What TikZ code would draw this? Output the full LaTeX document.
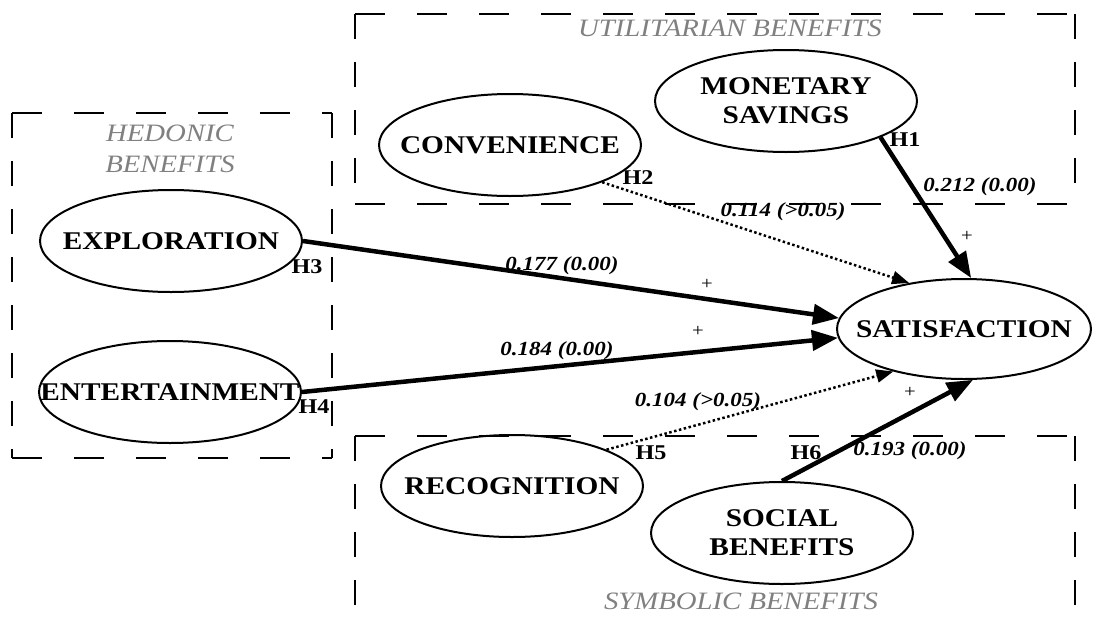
\documentclass[tikz,border=0pt]{standalone}
\usepackage{fontspec}
\setmainfont{Liberation Serif}[FakeStretch=1.15]
\usepackage{tikz}
\usetikzlibrary{arrows.meta,shapes.geometric}

\begin{document}
\begin{tikzpicture}[
  x=1pt, y=-1pt,
  construct/.style={ellipse, draw, line width=2pt, minimum width=262pt, minimum height=102pt,
    inner xsep=-45pt, inner ysep=0pt, align=center, font=\fontsize{25.5}{29}\selectfont\bfseries},
  hline/.style={line width=2pt, dash pattern=on 30pt off 32pt},
  vline/.style={line width=2pt, dash pattern=on 25pt off 23pt},
  grouplabel/.style={font=\fontsize{25}{31}\selectfont\itshape, text=black!50, align=center},
  strong/.style={line width=4.5pt, -{Triangle[length=26pt,width=20pt]}},
  weak/.style={line width=2.5pt, dash pattern=on 2.5pt off 2.5pt, -{Triangle[length=17pt,width=13pt]}},
  coef/.style={font=\fontsize{20}{22}\selectfont\bfseries\itshape},
  hyp/.style={font=\fontsize{21}{24}\selectfont\bfseries},
  sign/.style={font=\fontsize{18}{19}\selectfont},
]
\useasboundingbox (0,0) rectangle (1093,624);

% Dashed boxes around the three benefit groups.
\draw[hline] (12,113) -- (332,113) (12,458) -- (332,458);
\draw[vline] (12,113) -- (12,458) (332,113) -- (332,458);
\draw[hline] (355,14) -- (1075,14) (355,204) -- (1075,204);
\draw[vline] (355,14) -- (355,204) (1075,14) -- (1075,204);
\draw[hline] (355,436) -- (1075,436);
\draw[vline] (355,436) -- (355,624) (1075,436) -- (1075,624);

\node[grouplabel] (hedonic) at (170,149) {HEDONIC\\BENEFITS};
\node[grouplabel] (utilit)  at (730,28)  {UTILITARIAN BENEFITS};
\node[grouplabel] (symbol)  at (741,601) {SYMBOLIC BENEFITS};

% The constructs.
\node[construct] (mon)  at (786,101) {MONETARY\\SAVINGS};
\node[construct] (conv) at (510,145) {CONVENIENCE};
\node[construct] (expl) at (171,241) {EXPLORATION};
\node[construct] (ent)  at (170,392) {ENTERTAINMENT};
\node[construct, minimum width=254pt, minimum height=100pt] (sat) at (964,329) {SATISFACTION};
\node[construct] (rec)  at (512,486) {RECOGNITION};
\node[construct] (soc)  at (782,533) {SOCIAL\\BENEFITS};

% Hypothesised paths into satisfaction.
\draw[strong] (mon.-21) -- (sat.82);
\draw[weak]   (conv.-22) -- (sat.140);
\draw[strong] (expl.east) -- (sat.175);
\draw[strong] (ent.east) -- (sat.184);
\draw[weak]   (rec.21) -- (sat.211);
\draw[strong] (soc.north) -- (sat.-80);

% Path labels: hypothesis, coefficient (p), sign.
\node[hyp]  (h1) at (905,140) {H1};
\node[coef] (c1) at (980,187) {0.212 (0.00)};
\node[sign] (s1) at (967,236) {+};
\node[hyp]  (h2) at (638,178) {H2};
\node[coef] (c2) at (783,212) {0.114 (>0.05)};
\node[hyp]  (h3) at (307,267) {H3};
\node[coef] (c3) at (562,266) {0.177 (0.00)};
\node[sign] (s3) at (707,284) {+};
\node[hyp]  (h4) at (314,407) {H4};
\node[coef] (c4) at (557,351) {0.184 (0.00)};
\node[sign] (s4) at (698,331) {+};
\node[hyp]  (h5) at (651,453) {H5};
\node[coef] (c5) at (698,402) {0.104 (>0.05)};
\node[hyp]  (h6) at (806,453) {H6};
\node[coef] (c6) at (910,451) {0.193 (0.00)};
\node[sign] (s6) at (910,392) {+};

\end{tikzpicture}
\end{document}
